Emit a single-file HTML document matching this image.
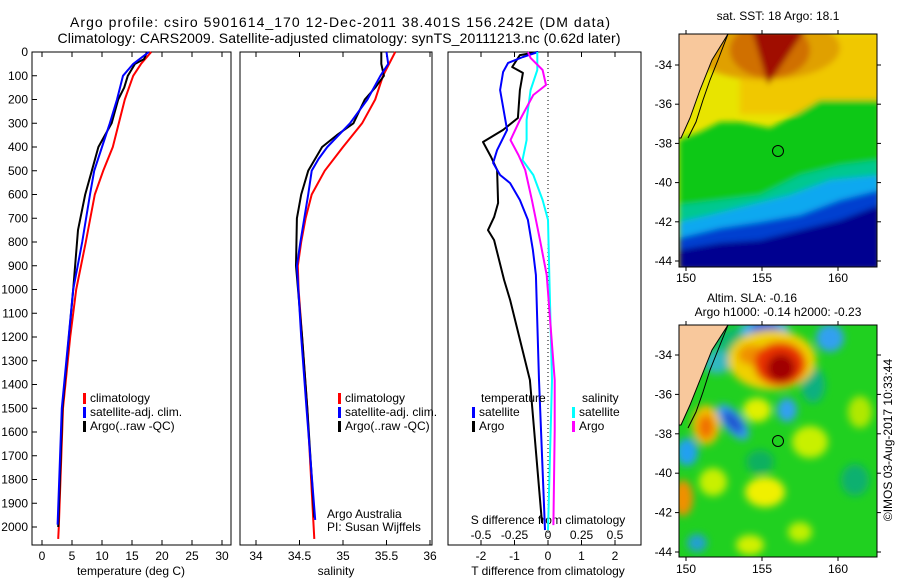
<!DOCTYPE html>
<html><head><meta charset="utf-8"><style>
html,body{margin:0;padding:0;background:#fff;}
svg{display:block;font-family:"Liberation Sans",sans-serif;}
</style></head><body>
<svg id="c" width="900" height="580" viewBox="0 0 900 580">
<defs>
<filter id="bl" x="-30%" y="-30%" width="160%" height="160%"><feGaussianBlur stdDeviation="4"/></filter>
<filter id="bl2" x="-20%" y="-20%" width="140%" height="140%"><feGaussianBlur stdDeviation="3"/></filter>
<clipPath id="m1c"><rect x="679" y="34" width="198" height="233"/></clipPath>
<clipPath id="m2c"><rect x="679" y="325" width="198" height="232"/></clipPath>
</defs>
<text x="340" y="27" text-anchor="middle" font-size="14" textLength="540">Argo profile: csiro 5901614_170 12-Dec-2011 38.401S 156.242E (DM data)</text>
<text x="339" y="43" text-anchor="middle" font-size="14" textLength="563">Climatology: CARS2009. Satellite-adjusted climatology: synTS_20111213.nc (0.62d later)</text>

<!-- SST map -->
<g>
<g clip-path="url(#m1c)">
<rect x="679" y="34" width="198" height="233" fill="#e8e400"/>
<g filter="url(#bl2)">
<rect x="740" y="34" width="140" height="80" fill="#f0c800"/>
<ellipse cx="765" cy="48" rx="75" ry="32" fill="#e0a000"/>
<ellipse cx="770" cy="50" rx="40" ry="28" fill="#d07000"/>
<polygon points="752,30 805,30 768,85" fill="#a01000"/>
<polygon points="679,140 700,132 720,122 740,122 770,128 800,112 820,100 880,100 880,230 679,230" fill="#10c818"/>
<polygon points="679,205 720,200 760,195 800,175 840,165 880,160 880,270 679,270" fill="#00c890"/>
<polygon points="679,222 710,215 750,205 790,195 830,180 880,175 880,270 679,270" fill="#10a8f0"/>
<polygon points="679,238 720,228 760,222 800,215 840,200 880,190 880,270 679,270" fill="#0040d0"/>
<polygon points="679,250 720,243 760,240 800,230 840,220 880,205 880,270 679,270" fill="#000090"/>
</g>
<polygon points="679,34 728,34 712,60 700,90 690,118 681,138 679,138" fill="#f8c89c" stroke="#000" stroke-width="1"/>
<polyline points="728,34 718,60 710,80 703,100 696,122 688,138" fill="none" stroke="#000" stroke-width="1"/>
</g>
<rect x="679" y="34" width="198" height="233" fill="none" stroke="#000" stroke-width="1"/>
<circle cx="778" cy="151" r="5.5" fill="none" stroke="#000" stroke-width="1"/>
<text x="778" y="20" text-anchor="middle" font-size="12">sat. SST: 18 Argo: 18.1</text>
</g>

<!-- SLA map -->
<g>
<g clip-path="url(#m2c)">
<rect x="679" y="325" width="198" height="232" fill="#20d020"/>
<g filter="url(#bl)">
<ellipse cx="740" cy="345" rx="25" ry="18" fill="#10b870"/>
<ellipse cx="765" cy="330" rx="24" ry="12" fill="#40b0f0"/>
<ellipse cx="765" cy="328" rx="14" ry="7" fill="#2060e0"/>
<ellipse cx="830" cy="338" rx="14" ry="14" fill="#30a0f0"/>
<ellipse cx="717" cy="362" rx="14" ry="12" fill="#30b8c0"/>
<ellipse cx="813" cy="385" rx="12" ry="18" fill="#10b080"/>
<ellipse cx="772" cy="360" rx="44" ry="30" fill="#f0d000"/>
<ellipse cx="752" cy="355" rx="14" ry="10" fill="#f09000"/>
<ellipse cx="780" cy="364" rx="26" ry="22" fill="#e83000"/>
<ellipse cx="781" cy="368" rx="14" ry="14" fill="#a00000"/>
<ellipse cx="757" cy="410" rx="14" ry="12" fill="#e0f000"/>
<ellipse cx="787" cy="410" rx="10" ry="12" fill="#30a0f0"/>
<ellipse cx="706" cy="425" rx="14" ry="20" fill="#f0c000"/>
<ellipse cx="706" cy="427" rx="8" ry="12" fill="#f07000"/>
<ellipse cx="733" cy="422" rx="10" ry="22" fill="#30a0f0" transform="rotate(-40 733 422)"/>
<ellipse cx="733" cy="422" rx="6" ry="14" fill="#2050d0" transform="rotate(-40 733 422)"/>
<ellipse cx="687" cy="452" rx="11" ry="14" fill="#20a0f0"/>
<ellipse cx="810" cy="442" rx="18" ry="16" fill="#c8f000"/>
<ellipse cx="683" cy="498" rx="10" ry="18" fill="#f09000"/>
<ellipse cx="765" cy="492" rx="20" ry="15" fill="#f0f000"/>
<ellipse cx="713" cy="482" rx="14" ry="14" fill="#c8f000"/>
<ellipse cx="750" cy="545" rx="14" ry="10" fill="#d0f000"/>
<ellipse cx="800" cy="532" rx="12" ry="10" fill="#c0f000"/>
<ellipse cx="697" cy="543" rx="10" ry="9" fill="#20a0d0"/>
<ellipse cx="860" cy="412" rx="12" ry="16" fill="#b0e800"/>
<ellipse cx="760" cy="462" rx="14" ry="12" fill="#10b060"/>
<ellipse cx="855" cy="480" rx="14" ry="16" fill="#10b070"/>
</g>
<polygon points="679,325 728,325 712,350 700,380 690,405 681,425 679,425" fill="#f8c89c" stroke="#000" stroke-width="1"/>
<polyline points="728,325 718,350 710,370 703,392 696,412 688,428" fill="none" stroke="#000" stroke-width="1"/>
</g>
<rect x="679" y="325" width="198" height="232" fill="none" stroke="#000" stroke-width="1"/>
<circle cx="778" cy="441" r="5.5" fill="none" stroke="#000" stroke-width="1"/>
<text x="752" y="302" text-anchor="middle" font-size="12">Altim. SLA: -0.16</text>
<text x="778" y="316" text-anchor="middle" font-size="12">Argo h1000: -0.14 h2000: -0.23</text>
</g>
<text transform="translate(892,440) rotate(-90)" text-anchor="middle" font-size="12">©IMOS 03-Aug-2017 10:33:44</text>
<g id="plots"></g>
</svg>
<script>
// ---- data ----
const depthTicks=[0,100,200,300,400,500,600,700,800,900,1000,1100,1200,1300,1400,1500,1600,1700,1800,1900,2000];
const tempTicks=[0,5,10,15,20,25,30];
const salTicks=[34,34.5,35,35.5,36];
const dTTicks=[-2,-1,0,1,2];
const dSTicks=[-0.5,-0.25,0,0.25,0.5];
const dSTickLabels=["-0.5","-0.25","0","0.25","0.5"];

const climTDepth=[0,50,100,200,300,400,500,600,800,1000,1200,1500,2000,2050];
const climT=[18.2,16.5,15.2,13.8,12.8,11.8,10.2,8.8,7.3,5.7,4.7,3.5,2.8,2.7];
const satTDepth=[0,50,100,200,300,400,500,600,800,1000,1500,1990];
const satT=[17.8,15.2,13.5,12.5,11.3,10,8.7,8,6.7,5.2,3.3,2.6];
const argoTDepth=[0,30,50,100,150,200,300,350,400,500,600,750,1000,1500,2000];
const argoT=[17.5,17,15.5,14.3,13.7,12.7,11.6,10.5,9.4,8.3,7.2,6,5.2,3.4,2.7];

const climSDepth=[0,100,200,300,400,500,600,700,800,900,1000,1200,1500,2050];
const climS=[35.6,35.46,35.37,35.22,35.0,34.79,34.64,34.57,34.52,34.48,34.49,34.53,34.59,34.67];
const satSDepth=[0,50,100,200,300,400,450,500,600,800,900,1200,1500,1970];
const satS=[35.5,35.52,35.43,35.28,35.08,34.82,34.72,34.64,34.6,34.51,34.47,34.52,34.58,34.68];
const argoSDepth=[0,50,100,150,200,300,350,400,500,600,700,900,1200,1500,1960];
const argoS=[35.44,35.44,35.47,35.37,35.25,35.12,34.93,34.76,34.6,34.52,34.47,34.46,34.53,34.59,34.67];

const argoDTDepth=[0,13,63,88,160,278,328,379,442,497,636,695,750,792,960,1044,1381,1983];
const argoDT=[-0.3,-0.84,-1.07,-0.75,-0.84,-0.9,-1.34,-1.94,-1.7,-1.52,-1.49,-1.61,-1.79,-1.61,-1.31,-1.13,-0.54,-0.18];
const satDTDepth=[0,21,46,84,160,328,413,467,518,552,623,707,834,939,1381,2013];
const satDT=[-0.3,-0.75,-1.19,-1.34,-1.43,-1.22,-1.52,-1.64,-1.43,-1.13,-0.84,-0.6,-0.45,-0.36,-0.27,-0.09];
const argoDSDepth=[0,25,76,139,181,286,371,434,497,623,792,939,1381,1592,1992];
const argoDS=[-0.15,-0.13,-0.04,-0.015,-0.11,-0.21,-0.28,-0.22,-0.17,-0.12,-0.06,-0.01,0.05,0.05,0.04];
const satDSDepth=[0,76,160,286,371,455,518,623,707,939,1381,2013];
const satDS=[-0.08,-0.08,-0.13,-0.16,-0.16,-0.19,-0.11,-0.04,0,0.01,0.03,0];

const latTicks=[-34,-36,-38,-40,-42,-44];
const lonTicks=[150,155,160];

// ---- axes ----
const NS="http://www.w3.org/2000/svg";
const root=document.getElementById('plots');
function mk(tag,attrs,parent){const e=document.createElementNS(NS,tag);for(const k in attrs)e.setAttribute(k,attrs[k]);(parent||root).appendChild(e);return e;}
const TOP=52,BOT=545;
const yD=d=>TOP+d*0.2375;
const xT=t=>42+6*t;
const xS=s=>256+87*(s-34);
const xDT=t=>548+33.5*t;
const xDS=s=>548+134*s;

function panel(x0,x1,name){
  const r=mk('rect',{x:x0,y:TOP,width:x1-x0,height:BOT-TOP,fill:'none',stroke:'#000','stroke-width':1});
  
  
}
panel(32,231,'temperature-panel');panel(240,432,'salinity-panel');panel(448,641,'difference-panel');

depthTicks.forEach(d=>{
  const y=yD(d);
  mk('line',{x1:32,x2:37,y1:y,y2:y,stroke:'#000'});
  const t=mk('text',{x:28,y:y+4,'text-anchor':'end','font-size':12});t.textContent=d;
  
  
});
function xticks(vals,fx,labels,topLen){
  vals.forEach((v,i)=>{
    const x=fx(v);
    mk('line',{x1:x,x2:x,y1:BOT,y2:BOT-5,stroke:'#000'});
    if(topLen)mk('line',{x1:x,x2:x,y1:TOP,y2:TOP+5,stroke:'#000'});
    const t=mk('text',{x:x,y:560,'text-anchor':'middle','font-size':12});t.textContent=labels?labels[i]:v;
    
    
  });
}
xticks(tempTicks,xT,null,true);
xticks(salTicks,xS,null,true);
xticks(dTTicks,xDT,null,false);
dSTicks.forEach((v,i)=>{
  const x=xDS(v);
  mk('line',{x1:x,x2:x,y1:TOP,y2:TOP+5,stroke:'#000'});
  const t=mk('text',{x:x,y:539,'text-anchor':'middle','font-size':12});t.textContent=dSTickLabels[i];
  
  
});
mk('line',{x1:548,x2:548,y1:TOP,y2:BOT,stroke:'#000','stroke-dasharray':'1,3'});

function label(x,y,txt,name,anchor,size){
  const t=mk('text',{x:x,y:y,'text-anchor':anchor||'middle','font-size':size||12});t.textContent=txt;
  
  
}
label(131,575,'temperature (deg C)','x-axis-title-temperature');
label(336,575,'salinity','x-axis-title-salinity');
label(548,575,'T difference from climatology','x-axis-title-t-diff');
label(548,524,'S difference from climatology','axis-title-s-diff');
label(327,518,'Argo Australia','credit-argo-australia','start');
label(327,531,'PI: Susan Wijffels','credit-pi','start');

// ---- series ----
function line(depths,vals,fx,color,name){
  const pts=depths.map((d,i)=>fx(vals[i]).toFixed(1)+','+yD(d).toFixed(1)).join(' ');
  const p=mk('polyline',{points:pts,fill:'none',stroke:color,'stroke-width':2,'stroke-linejoin':'round'});
  
  
}
line(climTDepth,climT,xT,'#ff0000','temp-climatology-line');
line(argoTDepth,argoT,xT,'#000000','temp-argo-line');
line(satTDepth,satT,xT,'#0000ff','temp-satellite-line');
line(climSDepth,climS,xS,'#ff0000','sal-climatology-line');
line(argoSDepth,argoS,xS,'#000000','sal-argo-line');
line(satSDepth,satS,xS,'#0000ff','sal-satellite-line');
line(argoDTDepth,argoDT,xDT,'#000000','t-diff-argo-line');
line(satDTDepth,satDT,xDT,'#0000ff','t-diff-satellite-line');
line(satDSDepth,satDS,xDS,'#00ffff','s-diff-satellite-line');
line(argoDSDepth,argoDS,xDS,'#ff00ff','s-diff-argo-line');

// ---- legends ----
function legend(x,y,color,txt,name){
  mk('rect',{x:x,y:y-9,width:3,height:11,fill:color});
  const t=mk('text',{x:x+7,y:y,'font-size':12});t.textContent=txt;
  
  
}
legend(83,402,'#ff0000','climatology','legend-temp-climatology');
legend(83,416,'#0000ff','satellite-adj. clim.','legend-temp-satellite');
legend(83,430,'#000000','Argo(..raw -QC)','legend-temp-argo');
legend(338,402,'#ff0000','climatology','legend-sal-climatology');
legend(338,416,'#0000ff','satellite-adj. clim.','legend-sal-satellite');
legend(338,430,'#000000','Argo(..raw -QC)','legend-sal-argo');
label(481,402,'temperature','legend-title-temperature','start');
label(582,402,'salinity','legend-title-salinity','start');
legend(472,416,'#0000ff','satellite','legend-t-satellite');
legend(472,430,'#000000','Argo','legend-t-argo');
legend(572,416,'#00ffff','satellite','legend-s-satellite');
legend(572,430,'#ff00ff','Argo','legend-s-argo');

// ---- map axes ----
function mapAxes(top,bottom,lat0y,latScale,labY,name){
  latTicks.forEach(l=>{
    const y=lat0y+(-34-l)*latScale;
    mk('line',{x1:675,x2:679,y1:y,y2:y,stroke:'#000'});
    mk('line',{x1:877,x2:881,y1:y,y2:y,stroke:'#000'});
    const t=mk('text',{x:672,y:y+4,'text-anchor':'end','font-size':12});t.textContent=l;
    
    
  });
  lonTicks.forEach(l=>{
    const x=686+(l-150)*15.2;
    mk('line',{x1:x,x2:x,y1:bottom,y2:bottom+4,stroke:'#000'});
    mk('line',{x1:x,x2:x,y1:top-4,y2:top,stroke:'#000'});
    const t=mk('text',{x:x,y:labY,'text-anchor':'middle','font-size':12});t.textContent=l;
    
    
  });
}
mapAxes(34,267,65,19.6,282,'sst-map');
mapAxes(325,557,355,19.7,573,'sla-map');
</script>
</body></html>
